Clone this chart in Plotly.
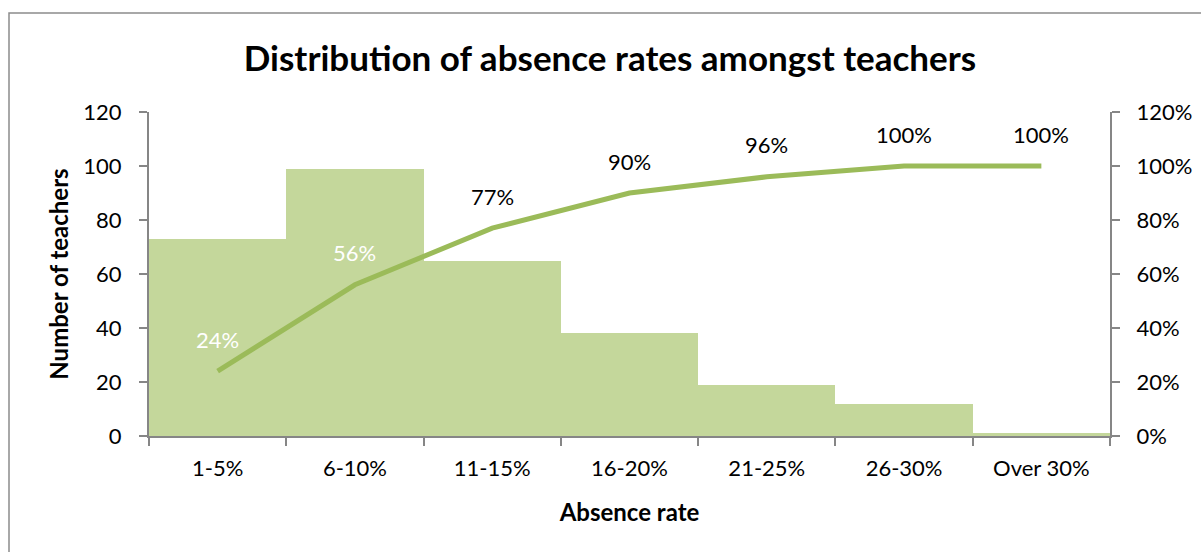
import plotly.graph_objects as go

categories = ["1-5%", "6-10%", "11-15%", "16-20%", "21-25%", "26-30%", "Over 30%"]
teachers = [73, 99, 65, 38, 19, 12, 1]
cumulative = [0.24, 0.56, 0.77, 0.90, 0.96, 1.00, 1.00]
label_colors = ["white", "white", "black", "black", "black", "black", "black"]

W, H = 1201, 552
L, R, T, B = 149, 91, 112, 116
FONT = "Lato"
AX = "#868686"

fig = go.Figure()
fig.add_trace(go.Bar(x=categories, y=teachers, marker=dict(color="#c4d79b", line=dict(width=0)),
                     hoverinfo="skip", showlegend=False))
fig.add_trace(go.Scatter(x=categories, y=cumulative, yaxis="y2", mode="lines",
                         line=dict(color="#9bbb59", width=5), showlegend=False))

for c, v, col in zip(categories, cumulative, label_colors):
    fig.add_annotation(x=c, y=v, yref="y2", text=f"{round(v*100)}%", showarrow=False,
                       yshift=32, font=dict(family=FONT, size=22, color=col))

pw = W - L - R
ph = H - T - B
def px(x):
    return (x - L) / pw
def py(y):
    return (H - B - y) / ph

fig.add_shape(type="rect", xref="paper", yref="paper", x0=px(9), x1=px(1210), y0=py(13), y1=py(560),
              line=dict(color="#8c8c8c", width=1.5), fillcolor="rgba(0,0,0,0)", layer="below")

fig.update_layout(
    width=W, height=H,
    margin=dict(l=L, r=R, t=T, b=B, autoexpand=False),
    paper_bgcolor="white", plot_bgcolor="white",
    bargap=0,
    font=dict(family=FONT, size=22, color="black"),
    title=dict(text="<b>Distribution of absence rates amongst teachers</b>", x=610 / W, xanchor="center",
               y=1 - 59 / H, yanchor="middle", font=dict(family=FONT, size=35, color="black")),
    xaxis=dict(type="category", showline=True, linecolor=AX, linewidth=2, ticks="outside",
               tickson="boundaries", ticklen=8, tickcolor=AX, tickwidth=1.5, ticklabelstandoff=12,
               automargin=False,
               tickfont=dict(family=FONT, size=22), showgrid=False, zeroline=False,
               title=dict(text="<b>Absence rate</b>", font=dict(family=FONT, size=24), standoff=24)),
    yaxis=dict(range=[0, 120], tickvals=[0, 20, 40, 60, 80, 100, 120], showline=True, linecolor=AX,
               linewidth=2, ticks="outside", ticklen=8, tickcolor=AX, tickwidth=1.5, showgrid=False,
               ticklabelstandoff=13, zeroline=False, tickfont=dict(family=FONT, size=22), automargin=False,
               title=dict(text="<b>Number of teachers</b>", font=dict(family=FONT, size=24), standoff=8)),
    yaxis2=dict(range=[0, 1.2], tickvals=[0, 0.2, 0.4, 0.6, 0.8, 1.0, 1.2], tickformat=".0%",
                overlaying="y", side="right", showline=True, linecolor=AX, linewidth=2, ticks="outside",
                ticklen=8, tickcolor=AX, tickwidth=1.5, showgrid=False, zeroline=False, automargin=False,
                ticklabelstandoff=12, tickfont=dict(family=FONT, size=22)),
)

fig.write_html("out.html")
